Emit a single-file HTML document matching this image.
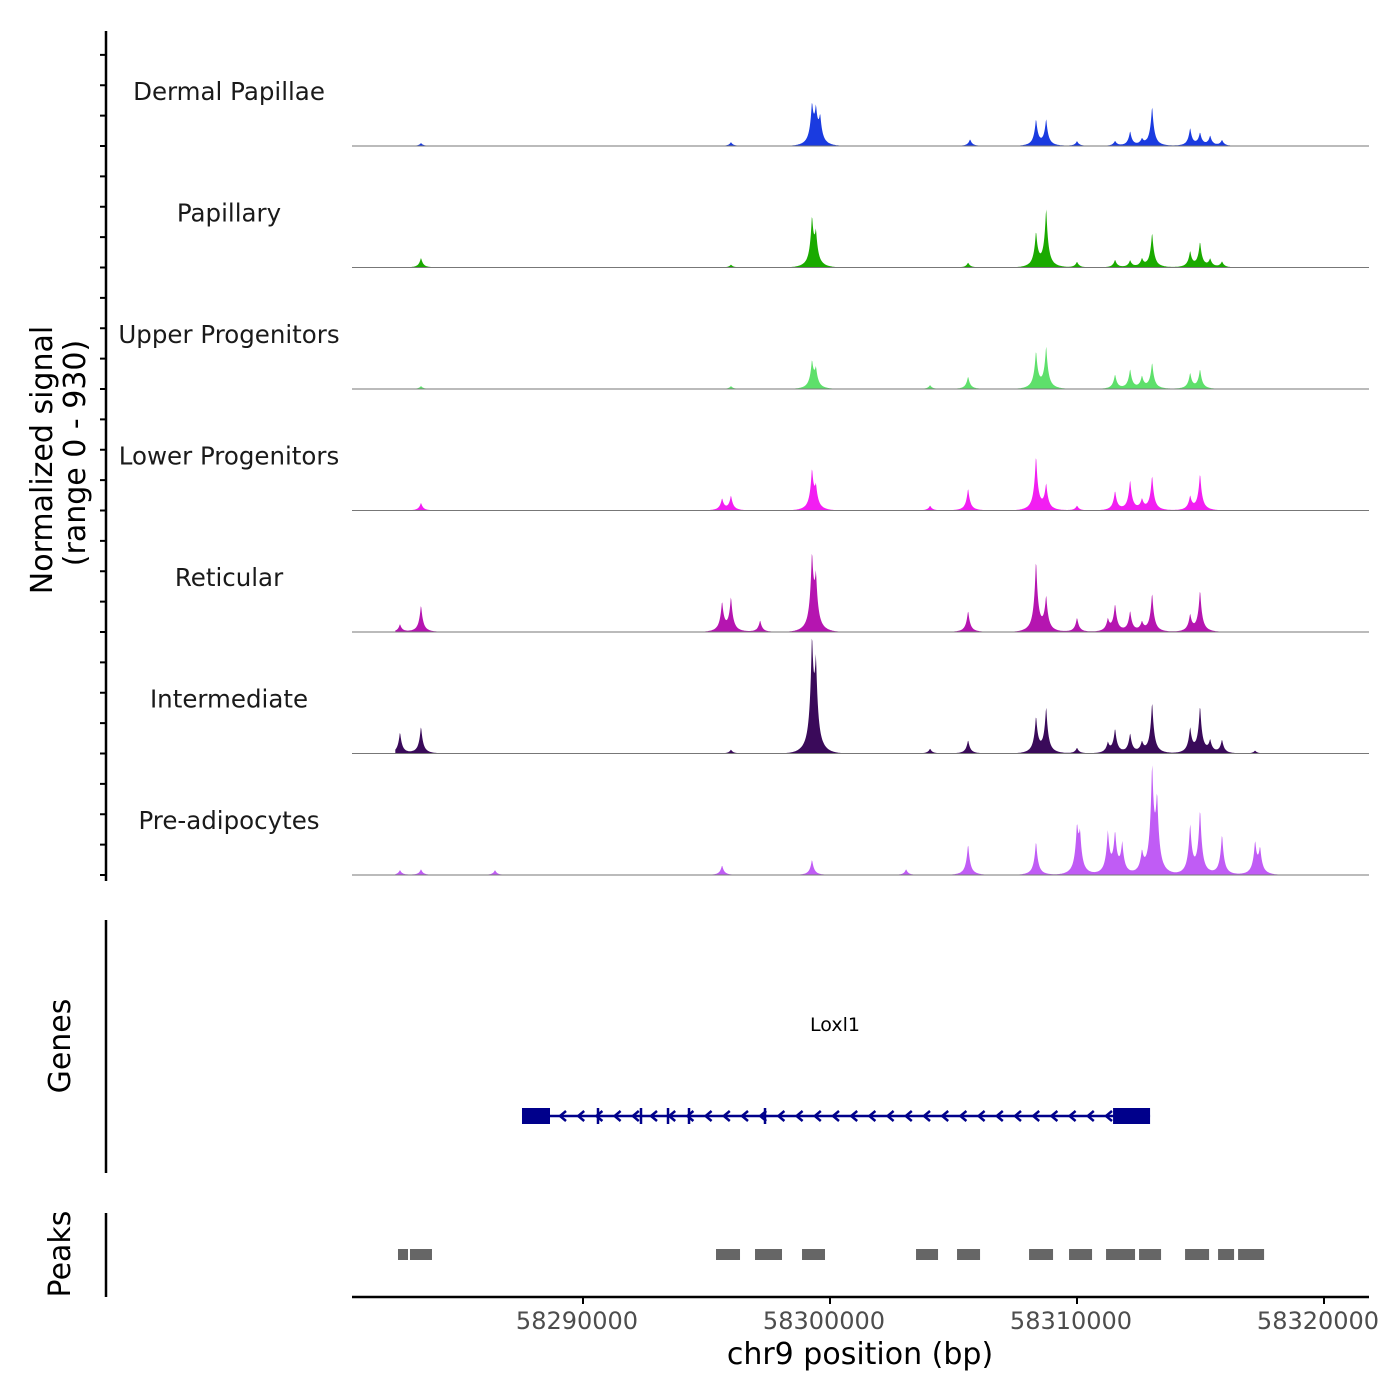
<!DOCTYPE html>
<html><head><meta charset="utf-8"><style>
body{margin:0;background:#fff}
svg{display:block;font-family:"DejaVu Sans","Liberation Sans",sans-serif}
</style></head><body>
<svg id="chart" width="1400" height="1400" viewBox="0 0 1400 1400">
<g id="tracks"></g>
<g id="yaxis"></g>
<text transform="translate(52,460) rotate(-90)" text-anchor="middle" font-size="30" fill="#000">Normalized signal</text>
<text transform="translate(85,453) rotate(-90)" text-anchor="middle" font-size="30" fill="#000">(range 0 - 930)</text>
<g id="genes"></g>
<line x1="106" y1="920" x2="106" y2="1173" stroke="#000" stroke-width="2.5"/>
<text transform="translate(70,1046) rotate(-90)" text-anchor="middle" font-size="30">Genes</text>
<g id="peaks"></g>
<line x1="106" y1="1213" x2="106" y2="1297" stroke="#000" stroke-width="2.5"/>
<text transform="translate(70,1254) rotate(-90)" text-anchor="middle" font-size="30">Peaks</text>
<g id="xaxis"></g>
<text x="860" y="1364" text-anchor="middle" font-size="30">chr9 position (bp)</text>
</svg>
<script>
const trackNames=["Dermal Papillae","Papillary","Upper Progenitors","Lower Progenitors","Reticular","Intermediate","Pre-adipocytes"];
const trackColors=["#1a3be0","#1aaa00","#5ee06b","#f21ef2","#b515b0","#3a0a5a","#c05cf5"];
const peakPos=[
[58283440,58295990,58299270,58299430,58299600,58305670,58308340,58308750,58310000,58311540,58312150,58312630,58313040,58314580,58314980,58315390,58315870],
[58283440,58295990,58299270,58299430,58305590,58308340,58308750,58310000,58311540,58312150,58312630,58313040,58314580,58314980,58315390,58315870],
[58283440,58295990,58299270,58299430,58304050,58305590,58308340,58308750,58311540,58312150,58312630,58313040,58314580,58314980],
[58283440,58295630,58295990,58299270,58299430,58304050,58305590,58308340,58308750,58310000,58311540,58312150,58312630,58313040,58314580,58314980],
[58282590,58283440,58295630,58295990,58297170,58299270,58299430,58305590,58308340,58308750,58310000,58311250,58311540,58312150,58312630,58313040,58314580,58314980],
[58282590,58283440,58295990,58299270,58299430,58304050,58305590,58308340,58308750,58310000,58311250,58311540,58312150,58312630,58313040,58314580,58314980,58315390,58315870,58317210],
[58282590,58283440,58286437,58295630,58299270,58303080,58305590,58308340,58310000,58310120,58311250,58311540,58311830,58312630,58313040,58313240,58314580,58314980,58315870,58317210,58317410]];
const peakVal=[
[24,32,300,237,198,55,213,213,40,40,118,47,324,142,103,79,47],
[79,24,379,237,40,276,474,47,63,55,63,284,126,205,63,47],
[24,24,213,142,32,103,300,340,118,158,95,213,126,158],
[63,95,118,316,158,40,182,442,205,40,158,245,79,284,110,300],
[63,221,237,276,95,585,379,174,577,276,118,95,221,166,71,316,134,340],
[174,221,32,845,632,40,110,292,371,47,79,198,158,79,419,198,379,95,110,24],
[40,47,40,79,126,47,253,276,348,276,332,316,237,158,830,553,395,521,332,253,198]];
const xTicks=[58290000,58300000,58310000,58320000];
const peakStart=[58282510,58282995,58295385,58296964,58298867,58303483,58305143,58308059,58309678,58311176,58312512,58314375,58315711,58316521];
const peakEnd=[58282915,58283886,58296357,58298057,58299798,58304374,58306075,58309030,58310609,58312350,58313403,58315347,58316359,58317574];
const exonStart=[58287530,58311460];
const exonEnd=[58288664,58312958];
const geneStart=58287530, geneEnd=58312958;
const introns=[58290607,58292348,58293442,58294292,58297369];

const NS="http://www.w3.org/2000/svg";
const X0=352,X1=1369;
const xs=b=>583+(b-58290000)/10000*247;
const TH=121.5, TOP=24.5, VMAX=930;
const ys=(v,i)=>TOP+TH*(i+1)-v/VMAX*(TH-3);
function mk(tag,attrs,parent){const e=document.createElementNS(NS,tag);for(const k in attrs)e.setAttribute(k,attrs[k]);parent.appendChild(e);return e;}
const tg=document.getElementById('tracks');
for(let i=0;i<7;i++){
  const base=TOP+TH*(i+1);
  const t=mk('text',{x:229,y:base-46,'text-anchor':'middle','font-size':24.5,fill:'#1a1a1a'},tg);
  t.textContent=trackNames[i];
  
  
  const xa=xs(58282400), xb=xs(58320200);
  let d='M'+xa.toFixed(1)+','+base;
  for(let x=xa;x<=xb;x+=0.5){
    let v=0;
    for(let k=0;k<peakPos[i].length;k++){
      const dx=Math.abs(x-xs(peakPos[i][k]));
      v+=peakVal[i][k]*(0.75*Math.exp(-dx/1.8)+0.25*Math.exp(-dx/6));
    }
    d+=' L'+x.toFixed(1)+','+ys(Math.min(v,VMAX),i).toFixed(1);
  }
  d+=' L'+xb.toFixed(1)+','+base+' Z';
  const p=mk('path',{d:d,fill:trackColors[i]},tg);
  
  
  const l=mk('line',{x1:X0,x2:X1,y1:base,y2:base,stroke:'#777','stroke-width':1},tg);
  
  
}
const ya=document.getElementById('yaxis');
mk('line',{x1:106,x2:106,y1:31,y2:881,stroke:'#000','stroke-width':2.5},ya);
for(let k=0;k<28;k++){const y=TOP+7*TH-k*TH/4;mk('line',{x1:100,x2:106,y1:y,y2:y,stroke:'#000','stroke-width':2},ya);}
const gg=document.getElementById('genes');
const gl=mk('text',{x:835,y:1031,'text-anchor':'middle','font-size':19},gg);gl.textContent='Loxl1';


const gy=1116;
mk('line',{x1:xs(geneStart),x2:xs(geneEnd),y1:gy,y2:gy,stroke:'#00008b','stroke-width':2.5},gg);
for(let x=xs(exonEnd[0])+12;x<xs(exonStart[1])-5;x+=18.2){mk('polyline',{points:`${x+4},${gy-5} ${x-2},${gy} ${x+4},${gy+5}`,fill:'none',stroke:'#00008b','stroke-width':2.5},gg);}
introns.forEach(b=>mk('line',{x1:xs(b),x2:xs(b),y1:gy-8,y2:gy+8,stroke:'#00008b','stroke-width':2.5},gg));
for(let k=0;k<exonStart.length;k++){
  const r=mk('rect',{x:xs(exonStart[k]),y:gy-8,width:xs(exonEnd[k])-xs(exonStart[k]),height:16,fill:'#00008b'},gg);
  
  
}
const pg=document.getElementById('peaks');
for(let k=0;k<peakStart.length;k++){
  const r=mk('rect',{x:xs(peakStart[k]),y:1249,width:xs(peakEnd[k])-xs(peakStart[k]),height:11,fill:'#666'},pg);
  
  
}
const xg=document.getElementById('xaxis');
mk('line',{x1:X0,x2:X1,y1:1297,y2:1297,stroke:'#000','stroke-width':2.5},xg);
xTicks.forEach(b=>{
  mk('line',{x1:xs(b),x2:xs(b),y1:1297,y2:1304,stroke:'#000','stroke-width':2},xg);
  const t=mk('text',{x:xs(b)-6,y:1329,'text-anchor':'middle','font-size':24,fill:'#4d4d4d'},xg);
  t.textContent=b;
  
  
});
</script>
</body></html>
